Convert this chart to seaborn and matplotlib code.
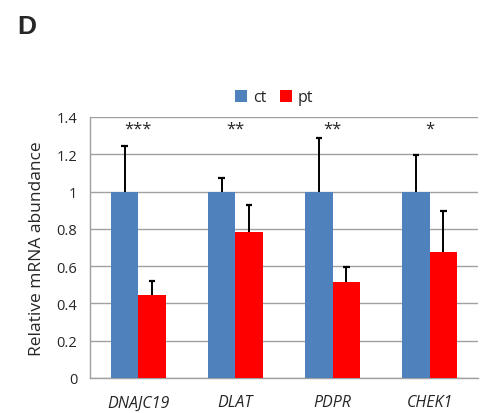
import numpy as np
import pandas as pd
import matplotlib
matplotlib.use("Agg")
import matplotlib.pyplot as plt
import seaborn as sns

# data
genes = ["DNAJC19", "DLAT", "PDPR", "CHEK1"]
ct_mean = [1.0, 1.0, 1.0, 1.0]
ct_err = [0.245, 0.07, 0.285, 0.195]
pt_mean = [0.445, 0.78, 0.515, 0.675]
pt_err = [0.075, 0.15, 0.08, 0.22]
stars = ["***", "**", "**", "*"]

df = pd.DataFrame({
    "gene": genes * 2,
    "group": ["ct"] * 4 + ["pt"] * 4,
    "value": ct_mean + pt_mean,
})

sns.set_style("white")
plt.rcParams["font.family"] = ["Open Sans", "DejaVu Sans"]

fig = plt.figure(figsize=(4.83, 4.14), dpi=100)
ax = fig.add_axes([0.186, 0.085, 0.804, 0.63])

sns.barplot(data=df, x="gene", y="value", hue="group", order=genes,
            hue_order=["ct", "pt"], palette={"ct": "#4F81BD", "pt": "#FF0000"},
            width=0.56, gap=0, errorbar=None, saturation=1, linewidth=0,
            ax=ax, zorder=3)

# error bars, upward only, placed on the drawn bars
bars = [p for p in ax.patches if p.get_height() > 0][:8]
errs = ct_err + pt_err
cap = 0.035
for p, e in zip(bars, errs):
    xc = p.get_x() + p.get_width() / 2
    top = p.get_height() + e
    ax.vlines(xc, p.get_height(), top, color="black", lw=1.4, zorder=4)
    ax.hlines(top, xc - cap, xc + cap, color="black", lw=1.6, zorder=4)

for i, s in enumerate(stars):
    ax.text(i, 1.335, s, ha="center", va="center", fontsize=12)

ax.set_ylim(0, 1.4)
ax.set_xlim(-0.5, 3.5)
ax.set_yticks(np.arange(0, 1.41, 0.2))
ax.set_yticklabels(["0", "0.2", "0.4", "0.6", "0.8", "1", "1.2", "1.4"], fontsize=10.5)
ax.yaxis.grid(True, color="#a0a0a0", lw=1, zorder=0)
ax.set_axisbelow(True)

ax.set_xticks([-0.5, 0.5, 1.5, 2.5, 3.5])
ax.set_xticklabels([])
ax.set_xticks(range(4), minor=True)
ax.set_xticklabels(genes, minor=True, fontsize=11.5, style="italic")
ax.tick_params(axis="x", which="major", length=5, color="#a0a0a0", direction="out")
ax.tick_params(axis="x", which="minor", length=0, pad=12)
ax.tick_params(axis="y", length=5, color="#a0a0a0", direction="out", pad=4)

for side in ["top", "right"]:
    ax.spines[side].set_visible(False)
for side in ["left", "bottom"]:
    ax.spines[side].set_color("#a0a0a0")
    ax.spines[side].set_linewidth(1)

ax.set_xlabel("")
ax.set_ylabel("Relative mRNA abundance", fontsize=12.5, labelpad=8)

leg = ax.legend(loc="lower center", bbox_to_anchor=(0.475, 0.99), ncol=2, frameon=False,
                fontsize=11.5, handlelength=0.75, handleheight=0.75, handletextpad=0.35,
                columnspacing=0.9)

fig.text(0.035, 0.935, "D", fontsize=19, fontweight="bold",
         family=["Liberation Sans", "DejaVu Sans"], va="center")

fig.savefig("out.png", dpi=100)
